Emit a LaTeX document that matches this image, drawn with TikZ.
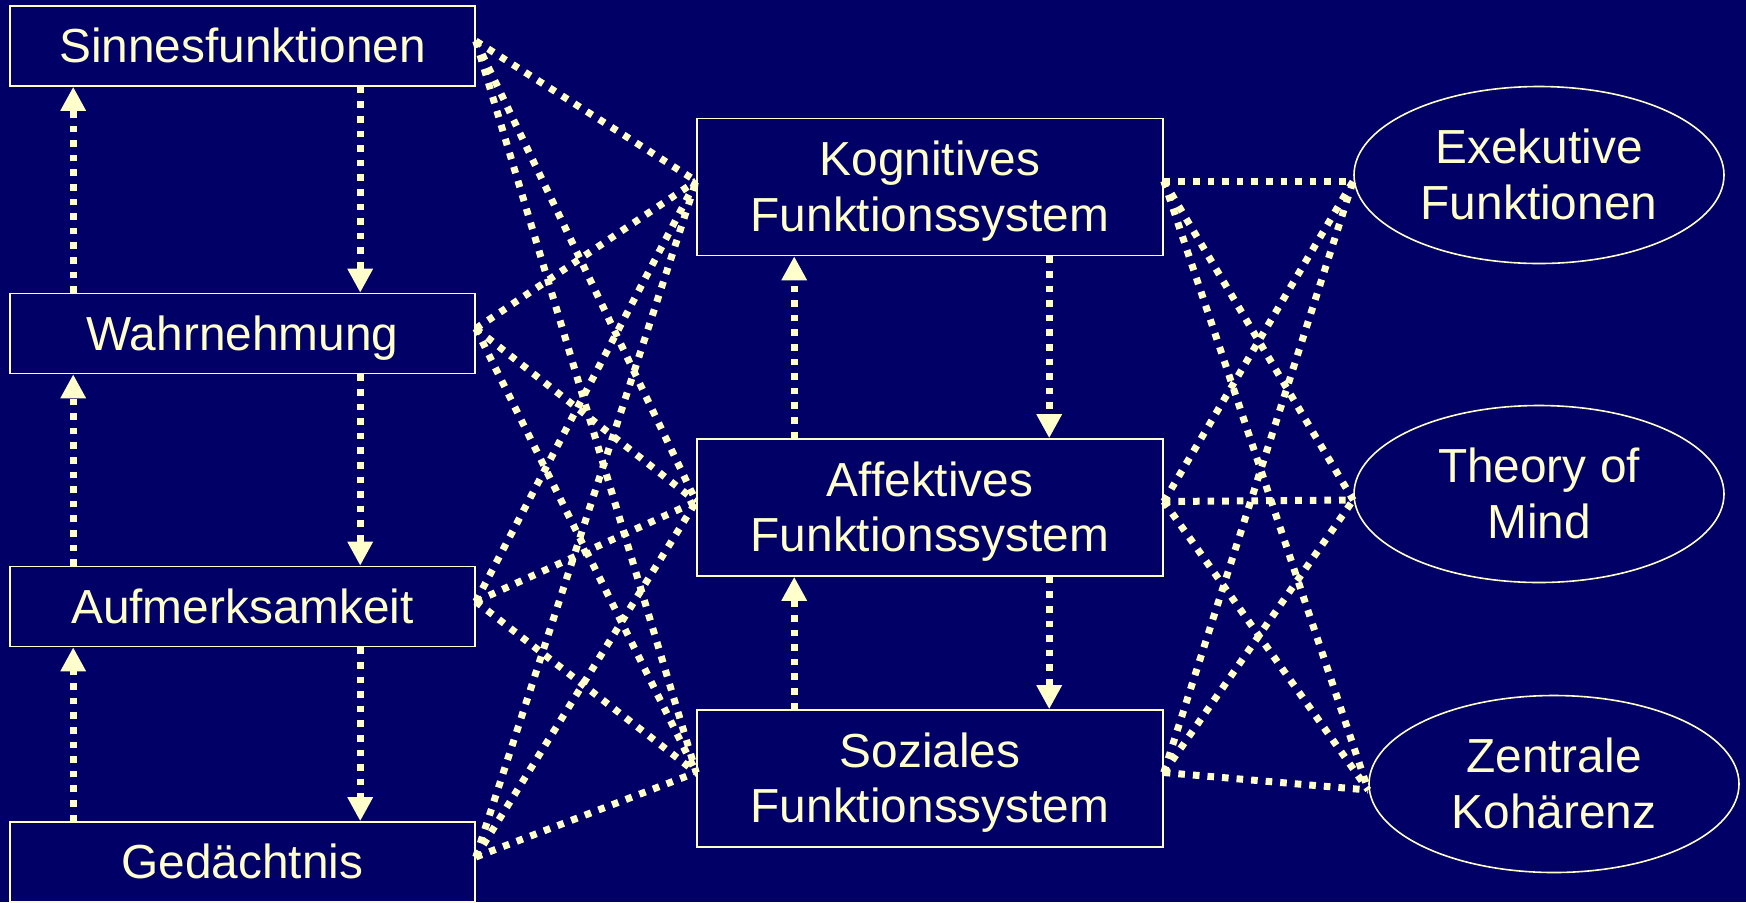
\documentclass[tikz,border=0pt]{standalone}
\usepackage{fontspec}
\setmainfont{Liberation Sans}
\usetikzlibrary{arrows.meta,shapes.geometric}
\definecolor{bg}{RGB}{0,0,102}
\definecolor{cream}{RGB}{255,255,204}
\newcommand{\mystrut}{\rule[-0.212em]{0pt}{1.117em}}
\begin{document}
\begin{tikzpicture}[x=0.5pt,y=-0.5pt,
  box/.style={draw=cream, line width=0.8pt, fill=bg, text=cream, inner sep=0pt,
    font=\fontsize{23.9}{27.8}\selectfont, align=center},
  lbox/.style={box, minimum width=232.5pt, minimum height=40pt},
  mbox/.style={box, minimum width=233pt, minimum height=68.5pt},
  ell/.style={box, ellipse, minimum width=185pt, minimum height=88.5pt},
  link/.style={draw=cream, line width=3.5pt, dash pattern=on 3.3pt off 4pt},
  arr/.style={link, -{Triangle[length=12pt,width=12pt]}}]
\fill[bg] (0,0) rectangle (1746,902);
\useasboundingbox (0,0) rectangle (1746,902);
% left boxes
\node[lbox] (sin) at (242.5,46) {\mystrut Sinnesfunktionen};
\node[lbox] (wah) at (242.5,333.5) {\mystrut Wahrnehmung};
\node[lbox] (auf) at (242.5,606.5) {\mystrut Aufmerksamkeit};
\node[lbox] (ged) at (242.5,862) {\mystrut Gedächtnis};
% middle boxes
\node[mbox] (kog) at (930,187) {\mystrut Kognitives\\\mystrut Funktionssystem};
\node[mbox] (aff) at (930,507.5) {\mystrut Affektives\\\mystrut Funktionssystem};
\node[mbox] (soz) at (930,778.5) {\mystrut Soziales\\\mystrut Funktionssystem};
% ellipses
\node[ell] (exe) at (1539,175) {\mystrut Exekutive\\\mystrut Funktionen};
\node[ell] (tom) at (1539,494) {\mystrut Theory of\\\mystrut Mind};
\node[ell] (zen) at (1554,784) {\mystrut Zentrale\\\mystrut Kohärenz};
% left vertical arrows
\draw[arr] ([xshift=32pt]wah.north west) -- ([xshift=32pt]sin.south west);
\draw[arr] ([xshift=175.5pt]sin.south west) -- ([xshift=175.5pt]wah.north west);
\draw[arr] ([xshift=32pt]auf.north west) -- ([xshift=32pt]wah.south west);
\draw[arr] ([xshift=175.5pt]wah.south west) -- ([xshift=175.5pt]auf.north west);
\draw[arr] ([xshift=32pt]ged.north west) -- ([xshift=32pt]auf.south west);
\draw[arr] ([xshift=175.5pt]auf.south west) -- ([xshift=175.5pt]ged.north west);
% middle vertical arrows
\draw[arr] ([xshift=49pt]aff.north west) -- ([xshift=49pt]kog.south west);
\draw[arr] ([xshift=176.5pt]kog.south west) -- ([xshift=176.5pt]aff.north west);
\draw[arr] ([xshift=49pt]soz.north west) -- ([xshift=49pt]aff.south west);
\draw[arr] ([xshift=176.5pt]aff.south west) -- ([xshift=176.5pt]soz.north west);
% left-middle links
\foreach \a in {sin,wah,auf,ged}{
  \foreach \b in {kog,aff,soz}{
    \draw[link] ([yshift=2.5pt]\a.east) -- ([yshift=3pt]\b.west);
  }
}
% middle-right links
\foreach \a in {kog,aff,soz}{
  \foreach \b in {exe,tom,zen}{
    \draw[link] ([yshift=3pt]\a.east) -- ([yshift=-3pt]\b.west);
  }
}
\end{tikzpicture}
\end{document}
